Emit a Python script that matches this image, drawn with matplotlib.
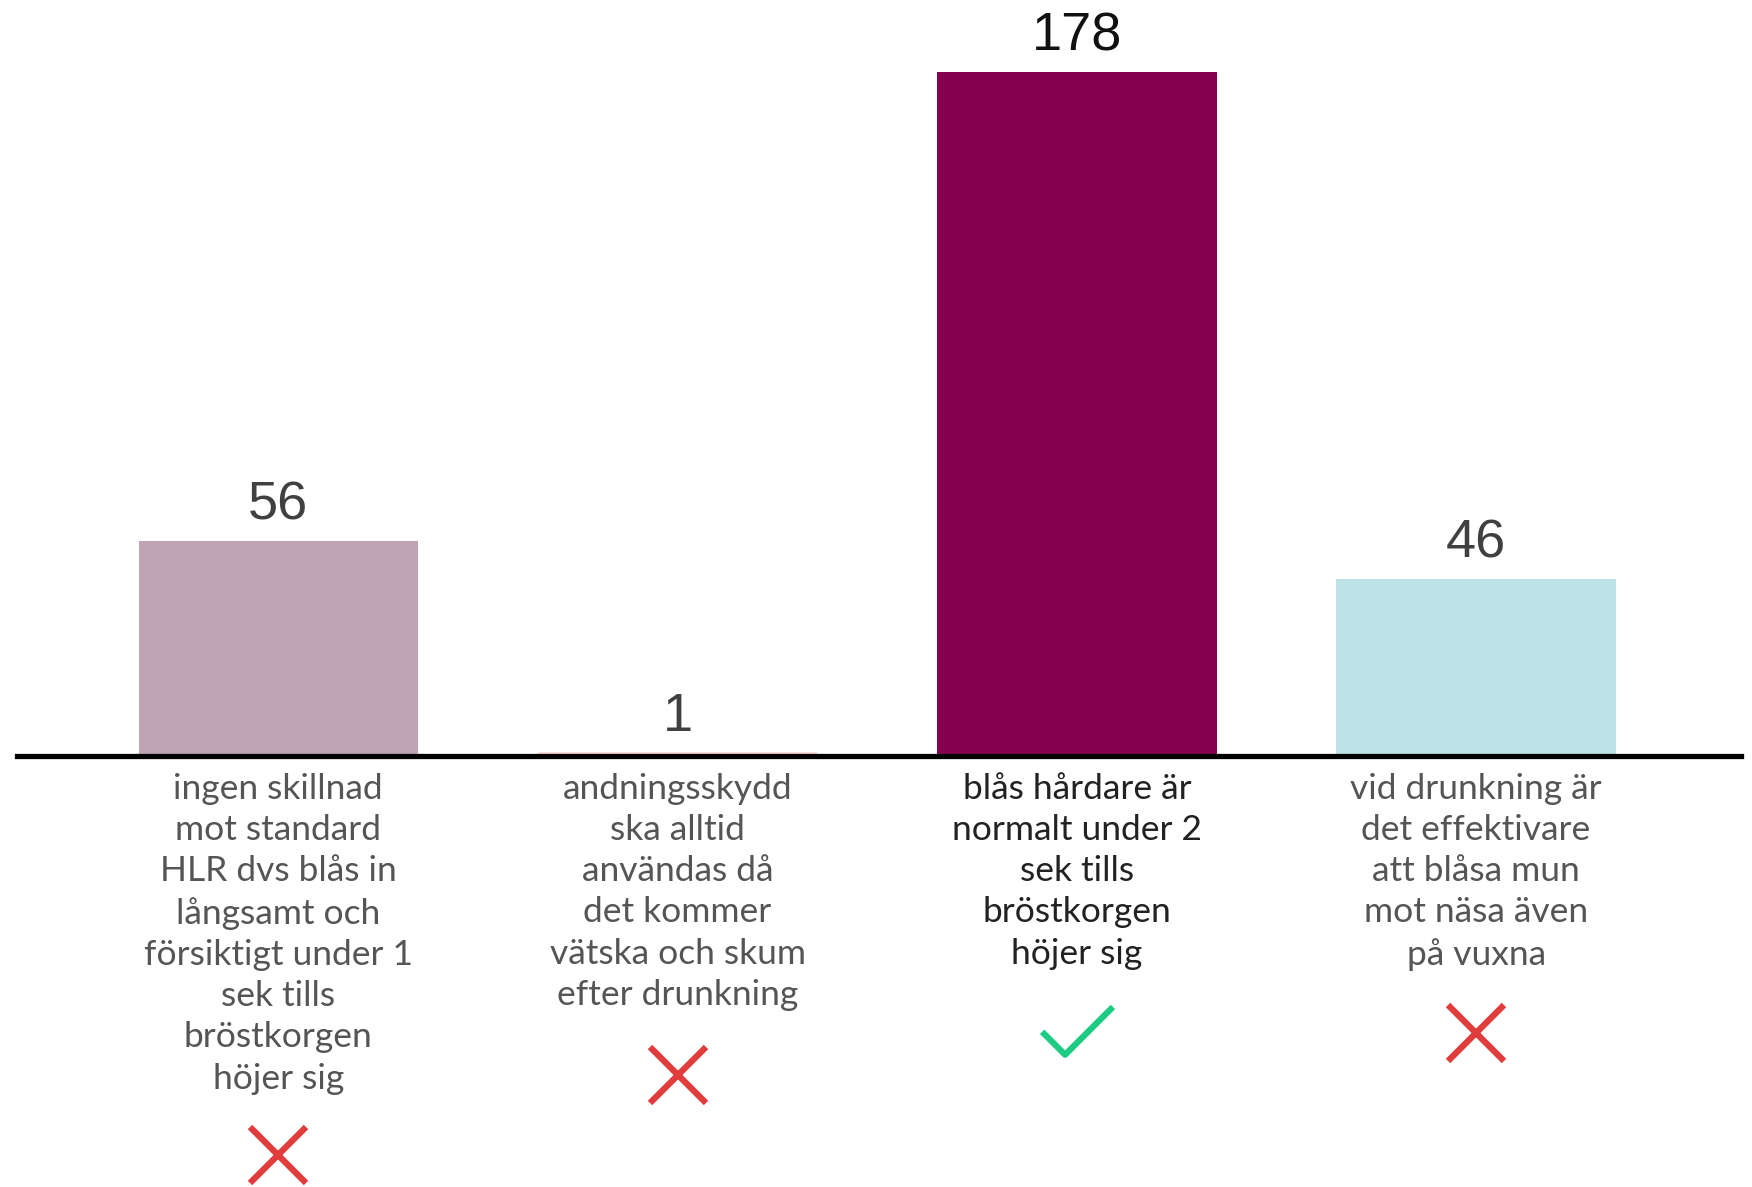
import matplotlib.pyplot as plt
from matplotlib.path import Path

# data
categories = [
    "ingen skillnad\nmot standard\nHLR dvs blås in\nlångsamt och\nförsiktigt under 1\nsek tills\nbröstkorgen\nhöjer sig",
    "andningsskydd\nska alltid\nanvändas då\ndet kommer\nvätska och skum\nefter drunkning",
    "blås hårdare är\nnormalt under 2\nsek tills\nbröstkorgen\nhöjer sig",
    "vid drunkning är\ndet effektivare\natt blåsa mun\nmot näsa även\npå vuxna",
]
counts = [56, 1, 178, 46]
correct = [False, False, True, False]

bar_colors = ["#bfa3b5", "#f9dcd9", "#870050", "#bee3e6"]
value_colors = ["#404040", "#404040", "#111111", "#404040"]
label_colors = ["#555555", "#555555", "#222222", "#555555"]
# vertical position of the check / cross under each label (data units)
icon_y = [-104.0, -83.0, -72.0, -72.2]

W, H = 1752, 1187
fig = plt.figure(figsize=(W / 100, H / 100), dpi=100)
ax = fig.add_axes([0, 0, 1, 1])
ax.set_xlim(-0.697, 3.691)
ax.set_ylim(-112.2, 196.7)
ax.axis("off")

x = range(len(counts))
ax.bar(x, counts, width=0.70, color=bar_colors, zorder=2)
ax.axhline(0, xmin=17 / W, xmax=1741 / W, color="black", lw=3.8, zorder=3)

for i, v in enumerate(counts):
    ax.text(i, v + 5.5, str(v), ha="center", va="baseline",
            fontsize=39, family="Liberation Sans", color=value_colors[i])
    ax.text(i, -4.4, categories[i], ha="center", va="top",
            fontsize=25.5, family="Lato", color=label_colors[i],
            linespacing=1.355)

check = Path([(-1.0, 0.05), (-0.35, -0.6), (1.0, 0.75)],
             [Path.MOVETO, Path.LINETO, Path.LINETO])
for i, ok in enumerate(correct):
    if ok:
        ax.plot(i, icon_y[i], marker=check, markersize=51, color="#1fcc84",
                markeredgewidth=4.5, fillstyle="none", linestyle="none", zorder=4)
    else:
        ax.plot(i, icon_y[i], marker="x", markersize=40, color="#e03c3c",
                markeredgewidth=4.5, linestyle="none", zorder=4)

fig.savefig("out.png", dpi=100, facecolor="white")
